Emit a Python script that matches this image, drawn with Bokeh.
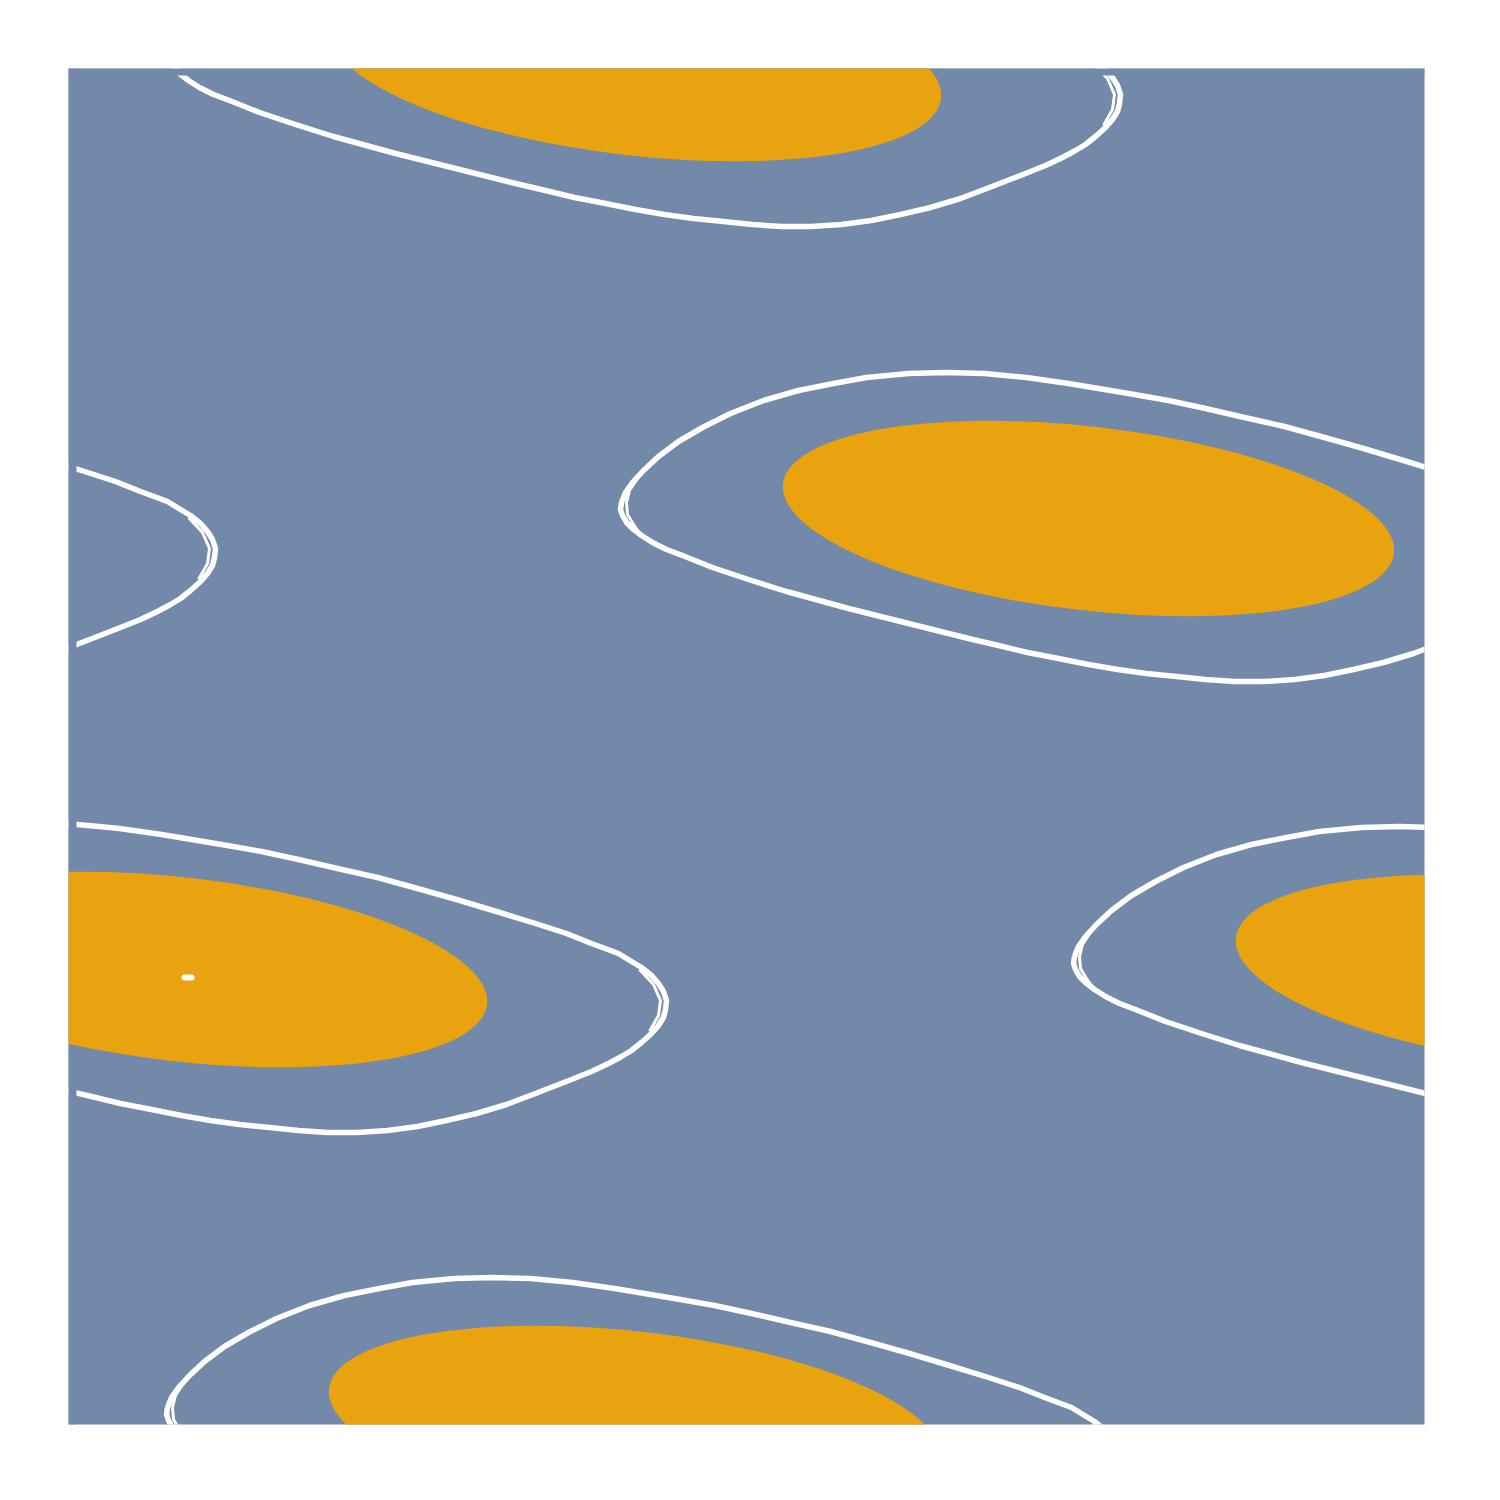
from bokeh.plotting import figure
from bokeh.models import Range1d
from bokeh.embed import file_html
from bokeh.resources import INLINE
import math

BLUE = "#7289A9"
ORANGE = "#E8A30E"

# plot extent (same units as the contour coordinates)
x_lo, x_hi = 68, 1424
y_lo, y_hi = 68, 1424
# first sample of the grid on which the contour lines were traced
line_start_x = 76
line_start_y = 75

# peaks of the field (centres of the orange cores)
peak_x = [635, 1088, 181, 1541, 634, -270]
peak_y = [63, 518, 969, 972, 1423, 517]

# orange core region around every peak (tilted ellipse)
core_width = 615
core_height = 184
core_angle_deg = -6.5

# white contour loop around each peak, relative to the peak
loop_dx = [-467, -468, -466, -462, -456, -447, -436, -422, -406, -376, -340, -302, -240, -180,
           -120, -90, -61, -30, 0, 29, 58, 88, 117, 146, 176, 206, 236, 265, 295, 325, 354,
           390, 410, 427, 440, 450, 460, 470, 477, 482, 484, 485, 482, 477, 470, 460, 450,
           437, 410, 385, 354, 315, 275, 236, 196, 156, 117, 80, 40, -20, -62, -104, -142,
           -180, -222, -255, -290, -325, -358, -386, -410, -430, -445, -456, -463, -467]
loop_dy = [-16, -9, -3, 4, 10, 17, 24, 31, 37, 49, 61, 73, 90, 105,
           120, 127, 134, 140, 146, 151, 155, 158, 161, 163, 163, 161, 157, 151, 144, 135, 124,
           110, 102, 94, 87, 81, 73, 64, 56, 48, 40, 31, 22, 14, 6, -2, -8,
           -16, -26, -36, -46, -58, -70, -81, -92, -101, -110, -118, -125, -135, -141, -145, -146,
           -145, -141, -135, -128, -118, -105, -91, -77, -62, -48, -36, -26, -16]

# second, nearly coincident contour visible only at the two turning points
tip_left_dx = [-451, -459, -462, -461, -455, -448]
tip_left_dy = [-40, -28, -16, -4, 6, 16]
tip_right_dx = [458, 472, 479, 477, 468]
tip_right_dy = [0, 15, 31, 46, 62]

# tiny closed contour at the highest sample
dot_x = [184, 191]
dot_y = [977, 977]

p = figure(width=1432, height=1432, output_backend="svg", toolbar_location=None,
           x_range=Range1d(x_lo, x_hi), y_range=Range1d(y_hi, y_lo),
           min_border_left=68, min_border_top=68, min_border_right=8, min_border_bottom=8)
p.axis.visible = False
p.grid.visible = False
p.outline_line_color = None
p.background_fill_color = BLUE
p.border_fill_color = "white"

loops_x = [[cx + d for d in loop_dx] for cx in peak_x]
loops_y = [[cy + d for d in loop_dy] for cy in peak_y]
p.multi_line(xs=loops_x, ys=loops_y, line_color="white", line_width=5.5, line_join="round")

tips_x = [[cx + d for d in tip_left_dx] for cx in peak_x] + [[cx + d for d in tip_right_dx] for cx in peak_x]
tips_y = [[cy + d for d in tip_left_dy] for cy in peak_y] + [[cy + d for d in tip_right_dy] for cy in peak_y]
p.multi_line(xs=tips_x, ys=tips_y, line_color="white", line_width=3, line_join="round")

# contour lines start at the first grid sample: strips before it stay background
p.quad(left=[x_lo, x_lo], right=[line_start_x, x_hi], top=[y_lo, y_lo], bottom=[y_hi, line_start_y],
       fill_color=BLUE, line_color=None)

p.ellipse(x=peak_x, y=peak_y, width=core_width, height=core_height,
          angle=math.radians(core_angle_deg), fill_color=ORANGE, line_color=None)

p.line(dot_x, dot_y, line_color="white", line_width=6, line_cap="round")

open("out.html", "w").write(file_html(p, INLINE))
